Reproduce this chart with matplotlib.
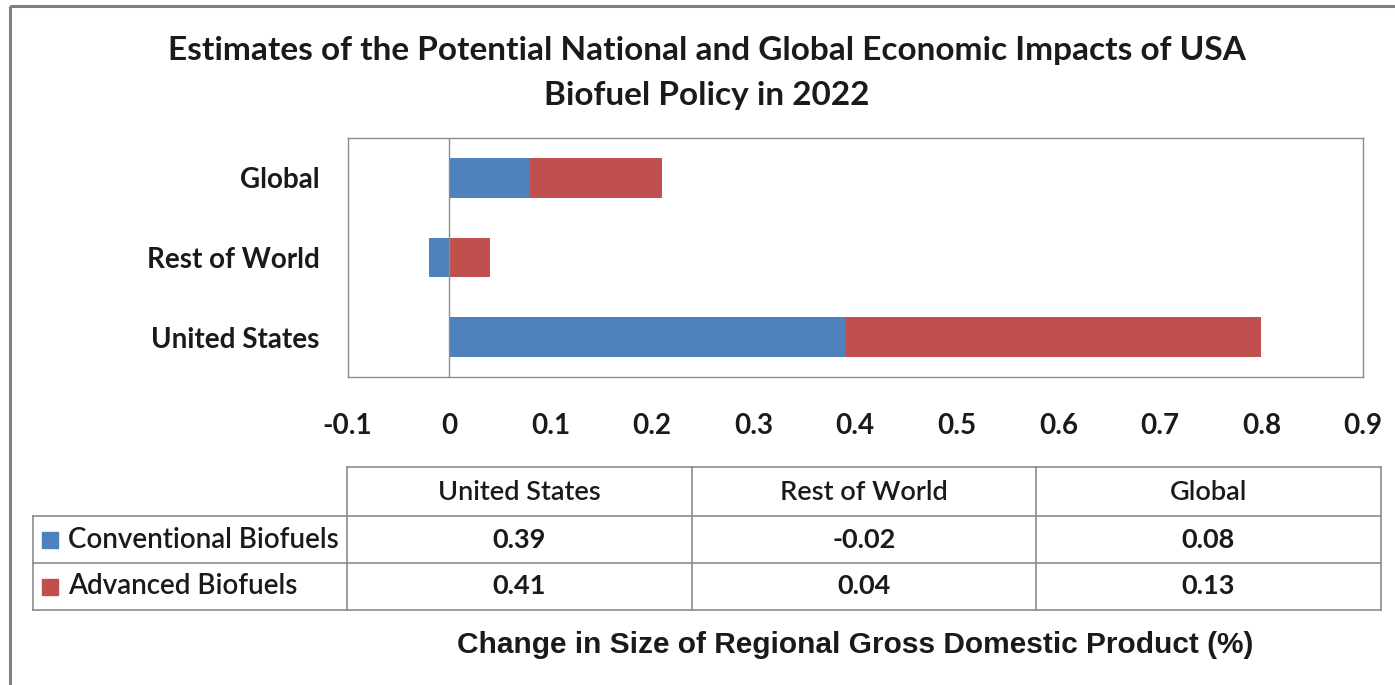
import matplotlib
matplotlib.use("Agg")
import matplotlib.pyplot as plt
from matplotlib.patches import Rectangle

# Data
regions = ["United States", "Rest of World", "Global"]
conventional = [0.39, -0.02, 0.08]
advanced = [0.41, 0.04, 0.13]
series_names = ["Conventional Biofuels", "Advanced Biofuels"]
xticks = [-0.1, 0, 0.1, 0.2, 0.3, 0.4, 0.5, 0.6, 0.7, 0.8, 0.9]
title_lines = ["Estimates of the Potential National and Global Economic Impacts of USA",
               "Biofuel Policy in 2022"]
xlabel = "Change in Size of Regional Gross Domestic Product (%)"

BLUE = "#4F81BD"
RED = "#C0504D"
GRID = "#8C8C8C"
TXT = "#1A1A1A"
FONT = "Lato"

W, H = 1395, 685
fig = plt.figure(figsize=(W / 100, H / 100), dpi=100)
fig.patch.set_facecolor("white")

# Overlay axes in pixel coordinates for border, title and table
ov = fig.add_axes([0, 0, 1, 1])
ov.set_xlim(0, W)
ov.set_ylim(H, 0)
ov.axis("off")
ov.add_patch(Rectangle((10, 6), W + 20, H + 20, fill=False, ec="#7F7F7F", lw=2.2))

for line, yy in zip(title_lines, [50, 95]):
    ov.text(707, yy, line, ha="center", va="center", fontsize=24, fontweight="bold",
            family=FONT, color=TXT)

# Bar chart area
px0, px1, py0, py1 = 347.5, 1363, 138, 377
ax = fig.add_axes([px0 / W, 1 - py1 / H, (px1 - px0) / W, (py1 - py0) / H])
ypos = list(range(len(regions)))
ax.barh(ypos, conventional, height=0.5, color=BLUE, zorder=2)
adv_left = [max(c, 0) for c in conventional]
ax.barh(ypos, advanced, left=adv_left, height=0.5, color=RED, zorder=2)
ax.axvline(0, color=GRID, lw=1.0, zorder=3)
ax.set_xlim(xticks[0], xticks[-1])
ax.set_ylim(-0.5, len(regions) - 0.5)
ax.set_xticks(xticks)
ax.set_xticklabels([f"{t:g}" for t in xticks], fontsize=20, fontweight="bold",
                   family=FONT, color=TXT)
ax.set_yticks(ypos)
ax.set_yticklabels(regions, fontsize=20, fontweight="bold", family=FONT, color=TXT)
ax.tick_params(axis="x", length=0, pad=26)
ax.tick_params(axis="y", length=0, pad=20)
for s in ax.spines.values():
    s.set_color(GRID)
    s.set_linewidth(1.0)

# Data table below the chart
col_x = [347, 692, 1036, 1381]
row_y = [467, 516, 563, 610]
tab_left = 33
lw = 1.2
ov.plot([col_x[0], col_x[-1]], [row_y[0], row_y[0]], color=GRID, lw=lw)
for yy in row_y[1:]:
    ov.plot([tab_left, col_x[-1]], [yy, yy], color=GRID, lw=lw)
for xx in col_x:
    ov.plot([xx, xx], [row_y[0], row_y[-1]], color=GRID, lw=lw)
ov.plot([tab_left, tab_left], [row_y[1], row_y[-1]], color=GRID, lw=lw)

for j, reg in enumerate(regions):
    cx = (col_x[j] + col_x[j + 1]) / 2
    ov.text(cx, (row_y[0] + row_y[1]) / 2 + 1, reg, ha="center", va="center",
            fontsize=19.5, family=FONT, fontweight="semibold", color=TXT)

for i, (name, vals, col) in enumerate(zip(series_names, [conventional, advanced], [BLUE, RED])):
    yc = (row_y[i + 1] + row_y[i + 2]) / 2
    ov.add_patch(Rectangle((42, yc - 8), 16, 16, color=col))
    ov.text(68, yc, name, ha="left", va="center", fontsize=20, family=FONT,
            fontweight="semibold", color=TXT)
    for j, v in enumerate(vals):
        cx = (col_x[j] + col_x[j + 1]) / 2
        ov.text(cx, yc, f"{v:.2f}", ha="center", va="center", fontsize=19.5,
                family=FONT, fontweight="bold", color=TXT)

ov.text(855, 645, xlabel, ha="center", va="center", fontsize=21.5, fontweight="bold",
        family="Liberation Sans", color=TXT)

fig.savefig("out.png", dpi=100, facecolor="white")
